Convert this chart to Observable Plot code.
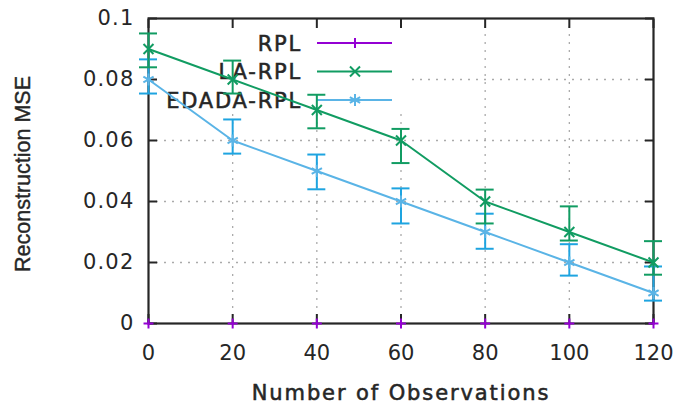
<!DOCTYPE html>
<html>
<head>
<meta charset="utf-8">
<script src="https://cdn.jsdelivr.net/npm/d3@7"></script>
<script src="https://cdn.jsdelivr.net/npm/@observablehq/plot@0.6"></script>
<style>
  html, body { margin: 0; padding: 0; background: white; }
  #chart { position: relative; width: 687px; height: 415px; background: white; }
  #chart > svg, #chart > .layer { position: absolute; left: 0; top: 0; }
</style>
</head>
<body>
<div id="chart"></div>
<script>
// ---- data ----
const observations = [0, 20, 40, 60, 80, 100, 120];
const seriesNames = ["RPL", "LA-RPL", "EDADA-RPL"];
const rplMSE    = [0, 0, 0, 0, 0, 0, 0];
const laMSE     = [0.09, 0.08, 0.07, 0.06, 0.04, 0.03, 0.02];
const laLow     = [0.084, 0.0754, 0.064, 0.0526, 0.0328, 0.0272, 0.016];
const laHigh    = [0.0951, 0.0862, 0.075, 0.0638, 0.0439, 0.0384, 0.027];
const edadaMSE  = [0.08, 0.06, 0.05, 0.04, 0.03, 0.02, 0.01];
const edadaLow  = [0.0754, 0.0557, 0.044, 0.0328, 0.0245, 0.0157, 0.0075];
const edadaHigh = [0.0866, 0.0669, 0.0554, 0.0443, 0.036, 0.026, 0.0187];
const xTicks = [0, 20, 40, 60, 80, 100, 120];
const xTickLabels = ["0", "20", "40", "60", "80", "100", "120"];
const yTicks = [0, 0.02, 0.04, 0.06, 0.08, 0.1];
const yTickLabels = ["0", "0.02", "0.04", "0.06", "0.08", "0.1"];
const xTitle = "Number of Observations";
const yTitle = "Reconstruction MSE";

// ---- styles ----
const purple = "#9400d3", green = "#119c62", blueLine = "#5ab4e6", blueBar = "#1ea4e0", ink = "#262626";
const W = 687, H = 415;
const frameOpts = {
  width: W, height: H,
  marginLeft: 148, marginRight: 34, marginTop: 18, marginBottom: 92,
  x: {domain: [0, 120]},
  y: {domain: [0, 0.1]}
};
const rows = observations.map((x, i) => ({
  x, rpl: rplMSE[i], la: laMSE[i], laLo: laLow[i], laHi: laHigh[i],
  ed: edadaMSE[i], edLo: edadaLow[i], edHi: edadaHigh[i]
}));
const xLab = new Map(xTicks.map((t, i) => [t, xTickLabels[i]]));
const yLab = new Map(yTicks.map((t, i) => [t, yTickLabels[i]]));
const font = "DejaVu Sans";
const heavy = {stroke: ink, strokeWidth: 0.55};

// ---- layer 1: grid, labels, baseline series ----
const back = Plot.plot({
  ...frameOpts,
  style: {fontFamily: font, fontSize: "21px", color: ink, background: "white"},
  marks: [
    Plot.gridX(xTicks.slice(1, -1), {stroke: "#aaaaaa", strokeOpacity: 1, strokeWidth: 1.3, strokeDasharray: "2,6"}),
    Plot.gridY(yTicks.slice(1, -1), {stroke: "#aaaaaa", strokeOpacity: 1, strokeWidth: 1.3, strokeDasharray: "2,6"}),
    Plot.line(rows, {x: "x", y: "rpl", stroke: purple, strokeWidth: 1}),
    Plot.axisX(xTicks, {anchor: "bottom", tickSize: 0, tickPadding: 22, fontSize: 21, label: null, fill: ink, ...heavy, tickFormat: d => xLab.get(d)}),
    Plot.axisY(yTicks, {anchor: "left", tickSize: 0, tickPadding: 14, fontSize: 21, label: null, fill: ink, ...heavy, tickFormat: d => yLab.get(d)}),
    Plot.text([yTitle], {text: d => d, frameAnchor: "left", rotate: -90, dx: -125, dy: 3, fontSize: 21.5, fontFamily: "Liberation Sans", textAnchor: "middle", lineAnchor: "middle", fill: ink, stroke: ink, strokeWidth: 0.4}),
    Plot.text([xTitle], {text: d => d, frameAnchor: "bottom", dy: 70, fontSize: 21, lineAnchor: "middle", fill: ink, ...heavy})
  ]
});
d3.select(back).selectAll("text")
  .filter(function() { return this.textContent === xTitle; })
  .style("letter-spacing", "1.9px");
d3.select(back).selectAll('g[aria-label="y-axis tick label"] text').style("letter-spacing", "1.2px");

// ---- layer 2: key box ----
const key = d3.create("svg").attr("class", "layer").attr("width", W).attr("height", H).style("pointer-events", "none");
key.append("rect").attr("x", 152).attr("y", 21).attr("width", 256).attr("height", 92).attr("fill", "white");
const keyRows = [
  {name: seriesNames[0], color: purple, sym: d3.symbolPlus, size: 34},
  {name: seriesNames[1], color: green, sym: d3.symbolTimes, size: 67},
  {name: seriesNames[2], color: blueLine, sym: d3.symbolAsterisk, size: 100}
];
keyRows.forEach((r, i) => {
  const cy = 43 + i * 28.5;
  key.append("text").attr("x", 302).attr("y", cy).attr("dy", "0.36em")
    .attr("text-anchor", "end").attr("font-family", font).attr("font-size", 21)
    .attr("stroke", ink).attr("stroke-width", 0.55)
    .style("letter-spacing", "1.8px").attr("fill", ink).text(r.name);
  key.append("line").attr("x1", 317).attr("x2", 392).attr("y1", cy).attr("y2", cy)
    .attr("stroke", r.color).attr("stroke-width", 2);
  key.append("path").attr("transform", `translate(355,${cy})`)
    .attr("d", d3.symbol(r.sym, r.size)()).attr("fill", "none").attr("stroke", r.color).attr("stroke-width", 2);
});

// ---- layer 3: data ----
const cap = (y, color) => Plot.ruleY(rows, {x1: "x", x2: "x", y, insetLeft: -9, insetRight: -9, stroke: color, strokeWidth: 2});
const tickOpts = {tickSize: 9, strokeWidth: 2, stroke: ink, label: null, tickFormat: () => ""};
const front = Plot.plot({
  ...frameOpts,
  style: {fontFamily: font, fontSize: "21px", background: "transparent"},
  marks: [
    Plot.frame({stroke: ink, strokeWidth: 2.2}),
    Plot.axisX(xTicks, {anchor: "bottom", dy: -9, ...tickOpts}),
    Plot.axisX(xTicks, {anchor: "top", dy: 9, ...tickOpts}),
    Plot.axisY(yTicks, {anchor: "left", dx: 9, ...tickOpts}),
    Plot.axisY(yTicks, {anchor: "right", dx: -9, ...tickOpts}),
    Plot.line(rows, {x: "x", y: "ed", stroke: blueLine, strokeWidth: 2}),
    Plot.line(rows, {x: "x", y: "la", stroke: green, strokeWidth: 2}),
    Plot.ruleX(rows, {x: "x", y1: "edLo", y2: "edHi", stroke: blueBar, strokeWidth: 2}),
    cap("edLo", blueBar), cap("edHi", blueBar),
    Plot.ruleX(rows, {x: "x", y1: "laLo", y2: "laHi", stroke: green, strokeWidth: 2}),
    cap("laLo", green), cap("laHi", green),
    Plot.dot(rows, {x: "x", y: "rpl", symbol: "plus", r: 3.3, stroke: purple, strokeWidth: 2}),
    Plot.dot(rows, {x: "x", y: "ed", symbol: "asterisk", r: 5.6, stroke: blueLine, strokeWidth: 2}),
    Plot.dot(rows, {x: "x", y: "la", symbol: "times", r: 4.6, stroke: green, strokeWidth: 2})
  ]
});

const chart = document.getElementById("chart");
chart.append(back);
chart.append(key.node());
chart.append(front);
</script>
</body>
</html>
